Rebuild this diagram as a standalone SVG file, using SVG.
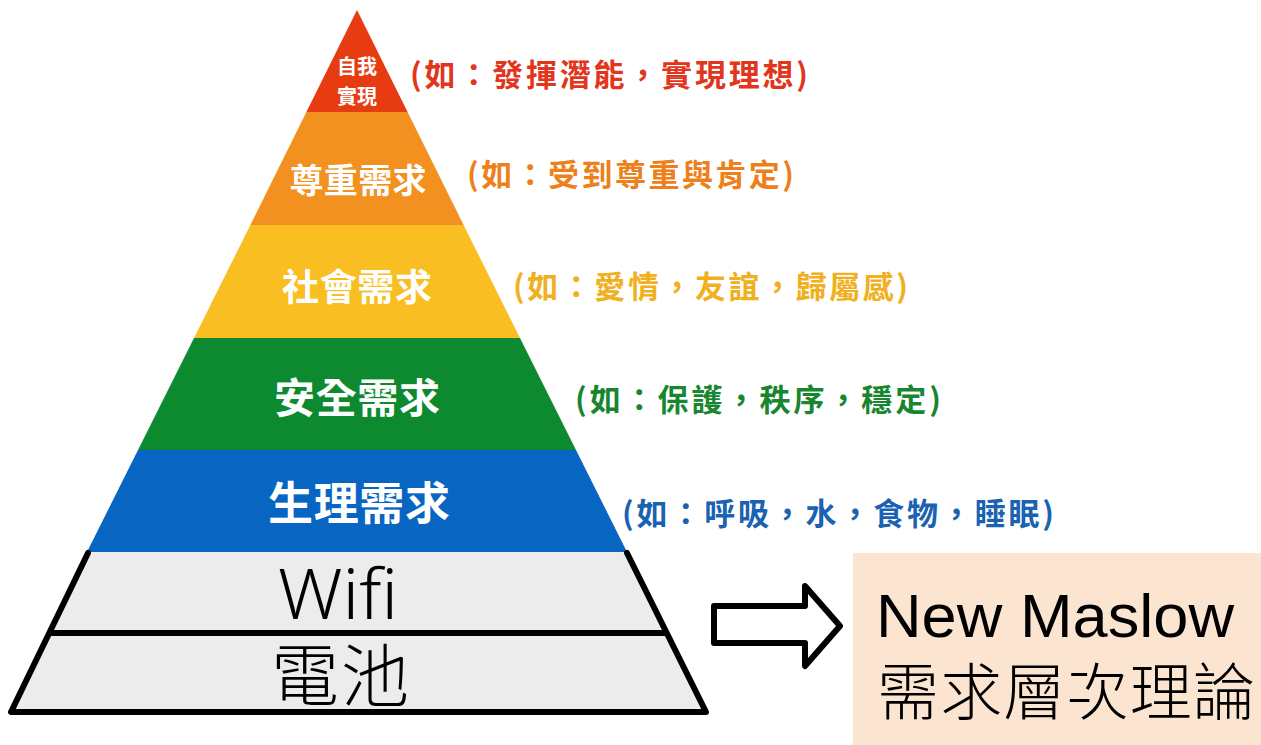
<svg xmlns="http://www.w3.org/2000/svg" width="1261" height="745" viewBox="0 0 1261 745">
<style>
.in{font-family:"Noto Sans CJK TC","Noto Sans CJK SC",sans-serif;font-weight:700;fill:#fff;text-anchor:middle;dominant-baseline:central}
.ex{font-family:"Noto Sans CJK TC","Noto Sans CJK SC",sans-serif;font-weight:700;font-size:31px;dominant-baseline:central}
.ln{fill:none;stroke:#000;stroke-width:6;stroke-linecap:round;stroke-linejoin:round}
.thin{font-family:"Noto Sans CJK TC","Noto Sans CJK SC",sans-serif;font-weight:300;fill:#000}
</style>
<rect width="1261" height="745" fill="#fff"/>
<g id="level-self">
<polygon points="357,10 306.4,112 407.6,112" fill="#e73c12"/>
<text class="in" x="357" y="65" font-size="20">自我</text>
<text class="in" x="357" y="95" font-size="20">實現</text>
<text class="ex" x="410" y="72" fill="#e2361c" textLength="398" lengthAdjust="spacing">(如：發揮潛能，實現理想)</text>
</g>
<g id="level-esteem">
<polygon points="306.4,112 407.6,112 463.6,225 250.4,225" fill="#f29020"/>
<text class="in" x="358" y="178" font-size="34" textLength="137" lengthAdjust="spacing">尊重需求</text>
<text class="ex" x="467" y="172" fill="#ee801c" textLength="327" lengthAdjust="spacing">(如：受到尊重與肯定)</text>
</g>
<g id="level-social">
<polygon points="250.4,225 463.6,225 520,338 194,338" fill="#f9bf22"/>
<text class="in" x="357" y="285" font-size="37" textLength="150" lengthAdjust="spacing">社會需求</text>
<text class="ex" x="513" y="284" fill="#f0b020" textLength="395" lengthAdjust="spacing">(如：愛情，友誼，歸屬感)</text>
</g>
<g id="level-safety">
<polygon points="194,338 520,338 576,450 138,450" fill="#0d8a2f"/>
<text class="in" x="357" y="395" font-size="41" textLength="166" lengthAdjust="spacing">安全需求</text>
<text class="ex" x="575" y="397" fill="#17862f" textLength="366" lengthAdjust="spacing">(如：保護，秩序，穩定)</text>
</g>
<g id="level-physio">
<polygon points="138,450 576,450 627,552 87,552" fill="#0866c2"/>
<text class="in" x="359" y="500" font-size="45" textLength="182" lengthAdjust="spacing">生理需求</text>
<text class="ex" x="622" y="511" fill="#1a62b2" textLength="432" lengthAdjust="spacing">(如：呼吸，水，食物，睡眠)</text>
</g>
<g id="level-wifi">
<polygon points="87,552 627,552 666,633 48,633" fill="#ececec"/>
<text x="338" y="619" font-family="'Noto Sans','Liberation Sans',sans-serif" font-weight="300" font-size="70" text-anchor="middle" fill="#000" textLength="120" lengthAdjust="spacingAndGlyphs">Wifi</text>
</g>
<g id="level-battery">
<polygon points="48,633 666,633 706,712 10,712" fill="#ececec"/>
<text class="thin" x="340" y="701" font-size="68" text-anchor="middle" textLength="138" lengthAdjust="spacing">電池</text>
</g>
<g id="connectors">
<path class="ln" d="M88,553 L11,712 L706,712 L627,553"/>
<path class="ln" d="M50,633 L665,633"/>
<polygon class="ln" points="714,606 805,606 805,586 840,626 805,666 805,643 714,643"/>
</g>
<g id="result-box">
<rect x="853" y="553" width="408" height="192" fill="#fbe5d1"/>
<text x="876" y="637" font-family="'Liberation Sans',Arial,sans-serif" font-size="62" fill="#000" textLength="358" lengthAdjust="spacingAndGlyphs">New Maslow</text>
<text class="thin" x="877" y="715" font-size="62" font-weight="400" textLength="378" lengthAdjust="spacing">需求層次理論</text>
</g>
</svg>
